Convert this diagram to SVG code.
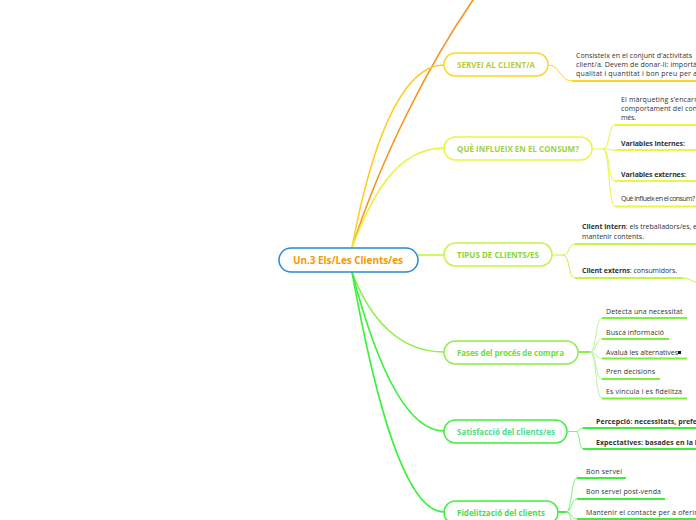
<svg xmlns="http://www.w3.org/2000/svg" width="696" height="520" viewBox="0 0 696 520">
<style>
text{font-family:"Open Sans","Noto Sans",sans-serif}
.main{font-size:8px;font-weight:bold}
.sub{font-size:7px;fill:#333}
.b{font-weight:bold}
.box{fill:#fff;stroke-width:1.5}
.c{fill:none;stroke-width:1.6}
.br{fill:none;stroke-width:1}
.ul{fill:none;stroke-width:2}
</style>
<rect width="696" height="520" fill="#fff"/>
<g id="connectors">
<path class="c" d="M352,248 C380,160 430,60 480,-10" stroke="#f7931e" stroke-width="2"/>
<path class="c" d="M352,248 C370,150 400,65 444,65" stroke="#ffcc22"/>
<path class="c" d="M352,248 C370,200 395,148 444,148" stroke="#e6f53c"/>
<path class="c" d="M418,255 L444,255" stroke="#c2f542"/>
<path class="c" d="M352,272 C370,320 400,352 444,352" stroke="#8cf04a"/>
<path class="c" d="M352,272 C375,360 405,431 444,431" stroke="#3df03d" stroke-width="1.8"/>
<path class="c" d="M352,272 C375,400 405,512 444,512" stroke="#3ef03e" stroke-width="2"/>
</g>
<g id="center">
<rect x="279" y="248" width="139" height="24" rx="12" fill="#fff" stroke="#2b8bd0" stroke-width="1.5"/>
<text x="293" y="264" font-size="10px" font-weight="bold" fill="#f59a00" textLength="110" lengthAdjust="spacing">Un.3 Els/Les Clients/es</text>
</g>
<g id="servei">
<rect class="box" x="444" y="53" width="104" height="23" rx="11.5" stroke="#ffd426"/>
<text class="main" x="457" y="67.8" fill="#bccb3c" textLength="78" lengthAdjust="spacing">SERVEI AL CLIENT/A</text>
<path class="br" d="M548,65 C560,65 560,81 572,81" stroke="#ffd426"/>
<path class="ul" d="M572,81 L696,81" stroke="#ffd426"/>
<text class="sub" x="576" y="57.5" textLength="116" lengthAdjust="spacing">Consisteix en el conjunt d’activitats</text>
<text class="sub" x="576" y="66.8" textLength="121" lengthAdjust="spacing">client/a. Devem de donar-li: importà</text>
<text class="sub" x="576" y="76" textLength="121" lengthAdjust="spacing">qualitat i quantitat i  bon preu per a</text>
</g>
<g id="influeix">
<rect class="box" x="444" y="137" width="148" height="23" rx="11.5" stroke="#e9f542"/>
<text class="main" x="457" y="151.5" fill="#a3d13f" textLength="122" lengthAdjust="spacing">QUÈ INFLUEIX EN EL CONSUM?</text>
<g stroke="#e9f542">
<path class="br" d="M592,149 L603,149 C610,149 608,125 615,125"/>
<path class="br" d="M603,149 C610,149 608,150 615,150"/>
<path class="br" d="M603,149 C610,149 608,181 615,181"/>
<path class="br" d="M603,149 C610,149 608,206 615,206"/>
<path class="ul" d="M615,125 L696,125 M615,150 L696,150 M615,181 L696,181 M615,206.5 L696,206.5"/>
</g>
<text class="sub" x="621" y="101.5" textLength="76" lengthAdjust="spacing">El màrqueting s’encarr</text>
<text class="sub" x="621" y="110.8" textLength="76" lengthAdjust="spacing">comportament del con</text>
<text class="sub" x="621" y="120.2" textLength="15" lengthAdjust="spacing">més.</text>
<text class="sub b" x="621" y="145.5" textLength="64" lengthAdjust="spacing">Variables internes:</text>
<text class="sub b" x="621" y="176.5" textLength="65" lengthAdjust="spacing">Variables externes:</text>
<text class="sub" x="621" y="200.8" font-size="4.8px" textLength="74" lengthAdjust="spacing">Què influeix en el consum?</text>
</g>
<g id="tipus">
<rect class="box" x="444" y="243" width="108" height="23" rx="11.5" stroke="#c2f542"/>
<text class="main" x="457" y="257.5" fill="#8bd630" textLength="82" lengthAdjust="spacing">TIPUS DE CLIENTS/ES</text>
<g stroke="#c2f542">
<path class="br" d="M552,255 L563,255 C570,255 568,244 575,244"/>
<path class="br" d="M563,255 C570,255 568,278 575,278"/>
<path class="ul" d="M575,244 L696,244 M575,278 L683,278"/>
<path class="br" d="M683,278 C690,278 690,281 696,282"/>
</g>
<text class="sub" x="582" y="228.5" textLength="115" lengthAdjust="spacing"><tspan class="b">Client intern</tspan>: els treballadors/es, e</text>
<text class="sub" x="582" y="238.5" textLength="62" lengthAdjust="spacing">mantenir contents.</text>
<text class="sub" x="582" y="272.5" textLength="95" lengthAdjust="spacing"><tspan class="b">Client externs</tspan>: consumidors.</text>
</g>
<g id="fases">
<rect class="box" x="444" y="341" width="134" height="23" rx="11.5" stroke="#8cf04a"/>
<text class="main" x="457" y="355.5" fill="#6ee03a" textLength="107" lengthAdjust="spacing">Fases del procés de compra</text>
<path class="ul" d="M578,352 L590,352" stroke="#8cf04a"/>
<g stroke="#b8f59a">
<path class="br" d="M590,352 C597,352 595,318 602,318"/>
<path class="br" d="M590,352 C597,352 595,339 602,339"/>
<path class="br" d="M590,352 C597,352 595,358 602,358"/>
<path class="br" d="M590,352 C597,352 595,379 602,379"/>
<path class="br" d="M590,352 C597,352 595,398 602,398"/>
</g>
<path class="ul" d="M602,318 L687,318 M602,339 L669,339 M602,358.5 L687,358.5 M602,379 L660,379 M602,398.5 L687,398.5" stroke="#7cf03a"/>
<text class="sub" x="606" y="313.5" textLength="76.5" lengthAdjust="spacing">Detecta una necessitat</text>
<text class="sub" x="606" y="334.5" textLength="58" lengthAdjust="spacing">Busca informació</text>
<text class="sub" x="606" y="354.5" textLength="72" lengthAdjust="spacing">Avaluà les alternatives</text>
<rect x="678" y="351" width="3" height="3" fill="#111"/>
<text class="sub" x="606" y="373.5" textLength="49" lengthAdjust="spacing">Pren decisions</text>
<text class="sub" x="606" y="393.5" textLength="76" lengthAdjust="spacing">Es vincula i es fidelitza</text>
</g>
<g id="satisfaccio">
<rect class="box" x="444" y="420" width="123" height="23" rx="11.5" stroke="#3df03d"/>
<text class="main" x="457" y="434.5" fill="#4fdc8a" textLength="98" lengthAdjust="spacing">Satisfacció del clients/es</text>
<g stroke="#7df07d">
<path class="br" d="M567,431.5 L576,431.5 C580,431.5 579,428 583,428"/>
<path class="br" d="M576,431.5 C580,431.5 579,449 583,449"/>
</g>
<path class="ul" d="M583,428 L696,428 M583,449 L696,449" stroke="#3df03d"/>
<text class="sub b" x="596" y="423.5" textLength="101" lengthAdjust="spacing">Percepció:  necessitats, prefe</text>
<text class="sub b" x="596" y="444.5" textLength="101" lengthAdjust="spacing">Expectatives: basades en la i</text>
</g>
<g id="fidelitzacio">
<rect class="box" x="444" y="501" width="114" height="23" rx="11.5" stroke="#3ef03e"/>
<text class="main" x="457" y="515.5" fill="#4ddc4d" textLength="88" lengthAdjust="spacing">Fidelització del clients</text>
<path class="ul" d="M558,512 L566,512" stroke="#3ef03e"/>
<g stroke="#7df07d">
<path class="br" d="M566,512 C572,512 571,478 577,478"/>
<path class="br" d="M566,512 C572,512 571,499 577,499"/>
<path class="br" d="M566,512 C572,512 571,519 577,519"/>
<path class="br" d="M566,512 C572,512 571,530 577,540"/>
</g>
<path class="ul" d="M577,478 L626,478 M577,499 L665,499 M577,519 L696,519" stroke="#3ef03e"/>
<text class="sub" x="586" y="473.5" textLength="36" lengthAdjust="spacing">Bon servei</text>
<text class="sub" x="586" y="493.5" textLength="75" lengthAdjust="spacing">Bon servei post-venda</text>
<text class="sub" x="586" y="514.5" textLength="111" lengthAdjust="spacing">Mantenir el contacte per a oferir</text>
</g>
</svg>
